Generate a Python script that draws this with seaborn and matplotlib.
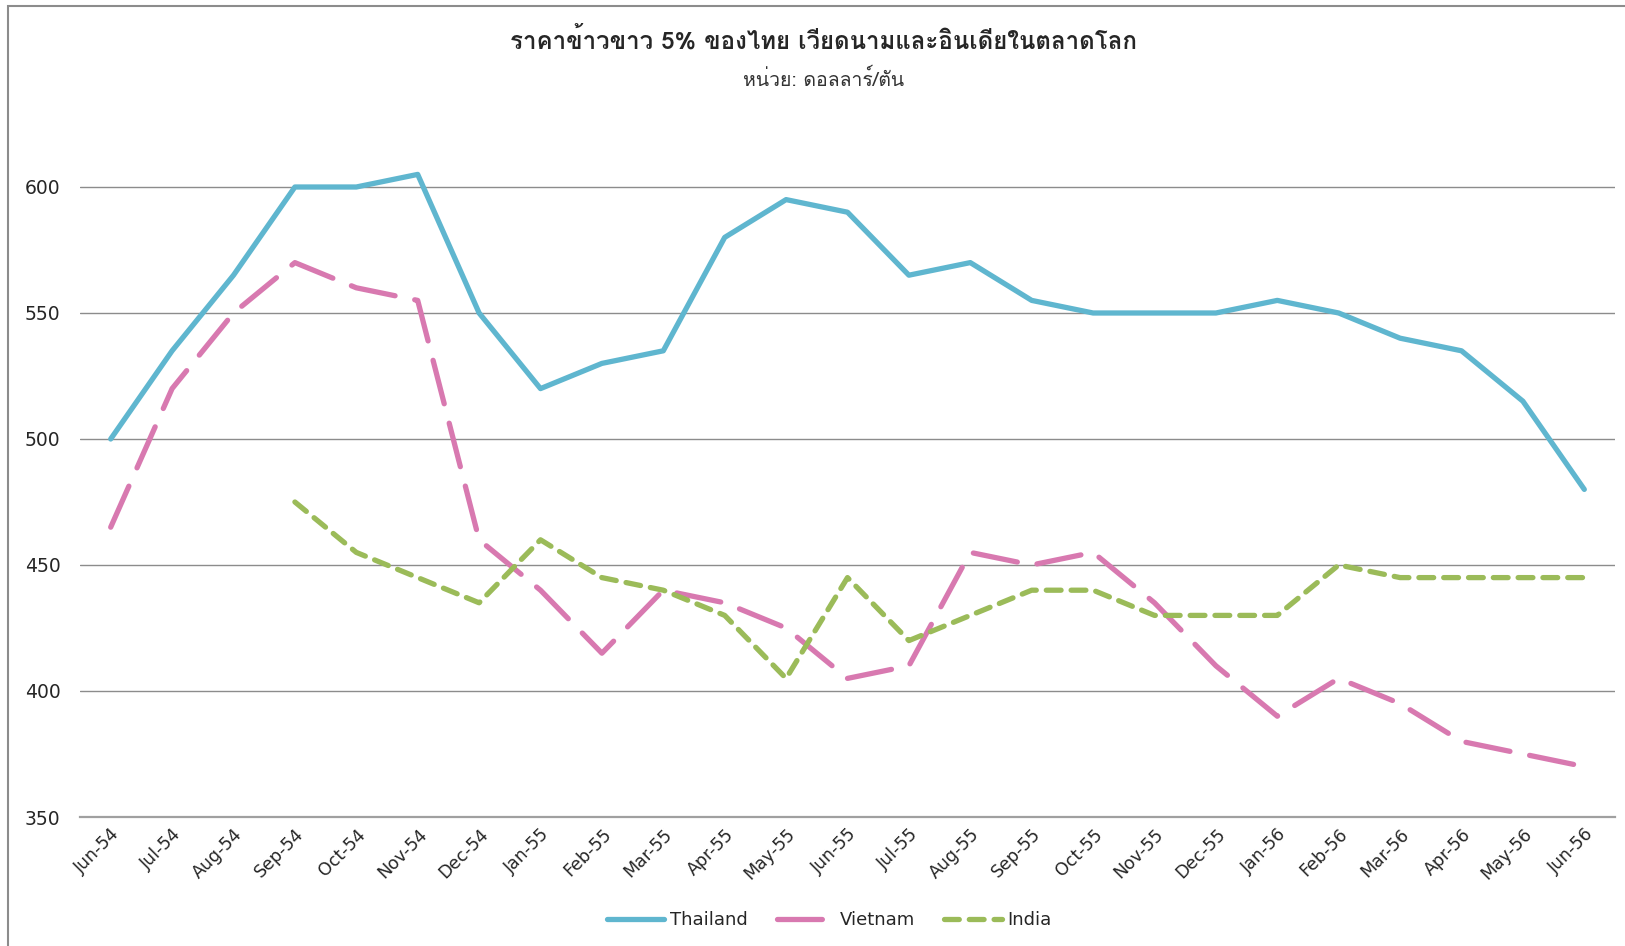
import numpy as np
import pandas as pd
import matplotlib
matplotlib.use("Agg")
import matplotlib.pyplot as plt
from matplotlib import font_manager
from matplotlib.ft2font import FT2Font
from matplotlib.patches import Rectangle
import seaborn as sns

# data (USD / tonne)
months = ["Jun-54", "Jul-54", "Aug-54", "Sep-54", "Oct-54", "Nov-54", "Dec-54",
          "Jan-55", "Feb-55", "Mar-55", "Apr-55", "May-55", "Jun-55", "Jul-55",
          "Aug-55", "Sep-55", "Oct-55", "Nov-55", "Dec-55", "Jan-56", "Feb-56",
          "Mar-56", "Apr-56", "May-56", "Jun-56"]
thailand = [500, 535, 565, 600, 600, 605, 550, 520, 530, 535, 580, 595, 590,
            565, 570, 555, 550, 550, 550, 555, 550, 540, 535, 515, 480]
vietnam = [465, 520, 550, 570, 560, 555, 460, 440, 415, 440, 435, 425, 405,
           410, 455, 450, 455, 435, 410, 390, 405, 395, 380, 375, 370]
india = [np.nan, np.nan, np.nan, 475, 455, 445, 435, 460, 445, 440, 430, 405,
         445, 420, 430, 440, 440, 430, 430, 430, 450, 445, 445, 445, 445]
series_names = ["Thailand", "Vietnam", "India"]
title = "ราคาข้าวขาว 5% ของไทย เวียดนามและอินเดียในตลาดโลก"
subtitle = "หน่วย: ดอลลาร์/ตัน"

df = pd.DataFrame({"pos": np.arange(len(months)), "Thailand": thailand,
                   "Vietnam": vietnam, "India": india})
long = df.melt(id_vars="pos", var_name="country", value_name="price").dropna()

sns.set_theme(style="white")
plt.rcParams["font.family"] = ["DejaVu Sans"]


# find an installed font that has Thai glyphs
def thai_family():
    for f in font_manager.fontManager.ttflist:
        try:
            cmap = FT2Font(f.fname).get_charmap()
        except Exception:
            continue
        if 0x0E23 in cmap and 0x0E32 in cmap:
            return f.name
    return "DejaVu Sans"


thai_font = thai_family()

fig = plt.figure(figsize=(16.25, 9.46), dpi=100)
ax = fig.add_axes([80 / 1625, 1 - 817 / 946, 1535 / 1625, (817 - 124) / 946])

colors = {"Thailand": "#5FB6CF", "Vietnam": "#D879B0", "India": "#9BBB59"}
dashes = {"Thailand": "", "Vietnam": (8.5, 3.8), "India": (2.8, 1.9)}
sns.lineplot(data=long, x="pos", y="price", hue="country", style="country",
             hue_order=series_names, style_order=series_names,
             palette=colors, dashes=dashes, linewidth=3.8, sort=False, ax=ax)
for line in ax.get_lines():
    line.set_dash_capstyle("round")
    line.set_solid_capstyle("round")

ax.set_xlim(-0.5, len(months) - 0.5)
ax.set_ylim(350, 625)
ax.set_yticks([350, 400, 450, 500, 550, 600])
ax.set_xticks(range(len(months)))
ax.set_xticklabels(months, rotation=45, ha="right", rotation_mode="anchor")
ax.tick_params(axis="x", labelsize=12.5, pad=6, length=0)
ax.tick_params(axis="y", labelsize=13.5, pad=14, length=0)
ax.yaxis.grid(True, color="#8c8c8c", linewidth=1)
ax.set_axisbelow(True)
for s in ax.spines.values():
    s.set_visible(False)
ax.spines["bottom"].set_visible(True)
ax.spines["bottom"].set_color("#a0a0a0")
ax.spines["bottom"].set_linewidth(1.6)
ax.set_xlabel("")
ax.set_ylabel("")

handles, labels = ax.get_legend_handles_labels()
ax.legend_.remove()
fig.legend(handles, labels, loc="center", bbox_to_anchor=(829 / 1625, 1 - 920 / 946),
           ncol=3, frameon=False, fontsize=13, handlelength=3.2, columnspacing=1.6,
           handletextpad=0.3)

fig.text(824 / 1625, 1 - 40 / 946, title, ha="center", va="center",
         fontsize=17.3, fontweight="bold", family=[thai_font, "DejaVu Sans"])
fig.text(824 / 1625, 1 - 79 / 946, subtitle, ha="center", va="center",
         fontsize=14, family=[thai_font, "DejaVu Sans"], color="#333333")

# chart frame (left and top edges visible)
fig.patches.append(Rectangle((8 / 1625, -0.05), 1.2, 1 - 6 / 946 + 0.05,
                             transform=fig.transFigure, fill=False,
                             edgecolor="#8c8c8c", linewidth=1.5))

fig.savefig("out.png", dpi=100)
